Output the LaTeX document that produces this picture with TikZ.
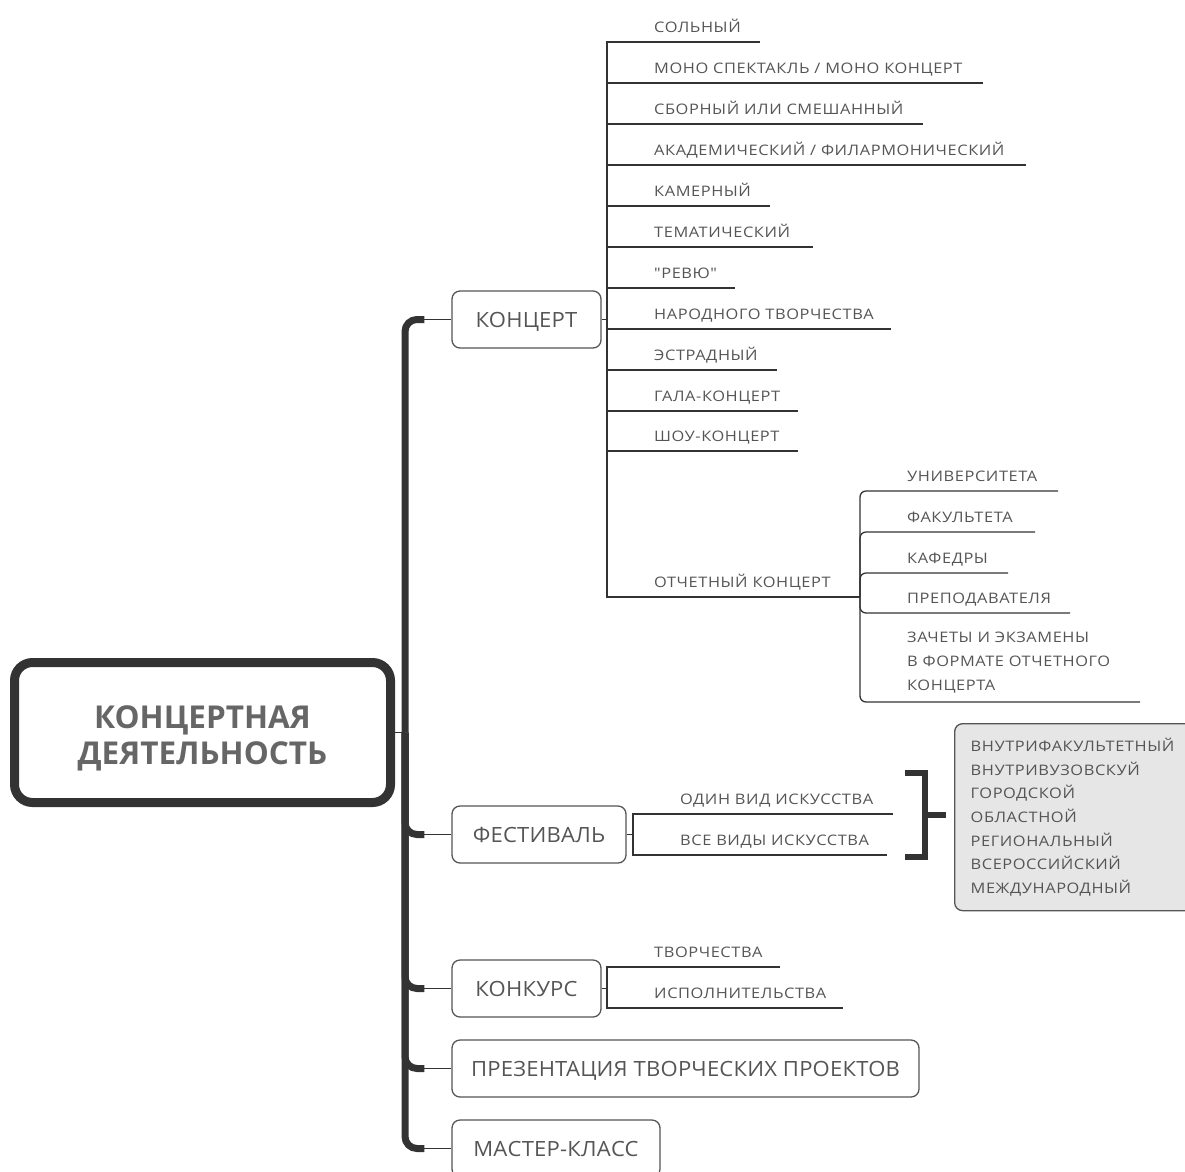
\documentclass[tikz,border=0pt]{standalone}
\usepackage{fontspec}
\setmainfont{Open Sans}
\newfontfamily\lblfont[FakeStretch=1.13, LetterSpace=4]{Open Sans}
\newfontfamily\boxfont[FakeStretch=1.05, LetterSpace=1]{Open Sans}
\definecolor{txt}{HTML}{555555}
\definecolor{txtb}{HTML}{666666}
\definecolor{ln}{HTML}{333333}
\definecolor{bord}{HTML}{555555}
\definecolor{gfill}{HTML}{E6E6E6}
\begin{document}
\begin{tikzpicture}[x=1pt,y=-1pt,
  lbl/.style={anchor=base west, inner sep=0pt, text=txt, font=\lblfont\fontsize{14.5}{24}\selectfont},
  box/.style={draw=bord, line width=1.3pt, rounded corners=8pt, text=txt, font=\boxfont\fontsize{21}{24}\selectfont, minimum height=57pt, inner sep=0pt, text height=15pt, text depth=0pt},
  thin/.style={draw=ln, line width=1.3pt},
  spine/.style={draw=ln, line width=7pt, rounded corners=12pt},
  rootbox/.style={draw=ln, line width=9pt, rounded corners=18pt, minimum width=376pt, minimum height=140pt, inner sep=0pt, text=txtb, font=\bfseries\fontsize{31.5}{36}\selectfont},
  graybox/.style={draw=bord, fill=gfill, line width=1.3pt, rounded corners=8pt, text=txt, font=\lblfont\fontsize{14.5}{23.7}\selectfont, align=left, text width=210pt, inner xsep=16pt, minimum height=187pt, anchor=north west},
  brk/.style={draw=ln, line width=6pt}
]
\useasboundingbox (0,0) rectangle (1185,1171);

% root
\node[rootbox] (root) at (202.5,732.5) {\raisebox{0pt}[\dimexpr\height+13pt\relax][\depth]{\begin{tabular}{@{}c@{}}КОНЦЕРТНАЯ\\ДЕЯТЕЛЬНОСТЬ\end{tabular}}};

% main boxes
\node[box, minimum width=149pt] (konc) at (526.5,319.5) {КОНЦЕРТ};
\node[box, minimum width=174pt] (fest) at (539,834.5) {ФЕСТИВАЛЬ};
\node[box, minimum width=149pt] (konk) at (526.5,988.5) {КОНКУРС};
\node[box, minimum width=467pt] (pres) at (685.5,1068.5) {ПРЕЗЕНТАЦИЯ ТВОРЧЕСКИХ ПРОЕКТОВ};
\node[box, minimum width=208pt] (mast) at (556,1148.5) {МАСТЕР-КЛАСС};

% spine
\coordinate (sp) at (405,732.5);
\draw[thin] (root.east) -- (sp);
\foreach \b in {konc,fest,konk,pres,mast}{
  \draw[spine] (sp) |- ([xshift=-27pt]\b.west);
  \draw[thin] ([xshift=-27pt]\b.west) -- (\b.west);
}

% concert branch
\coordinate (cv) at (607,319.5);
\draw[thin] (konc.east) -- (cv);
\node[lbl] (c1) at (654,32) {СОЛЬНЫЙ};
\node[lbl] (c2) at (654,73) {МОНО СПЕКТАКЛЬ / МОНО КОНЦЕРТ};
\node[lbl] (c3) at (654,114) {СБОРНЫЙ ИЛИ СМЕШАННЫЙ};
\node[lbl] (c4) at (654,155) {АКАДЕМИЧЕСКИЙ / ФИЛАРМОНИЧЕСКИЙ};
\node[lbl] (c5) at (654,196) {КАМЕРНЫЙ};
\node[lbl] (c6) at (654,237) {ТЕМАТИЧЕСКИЙ};
\node[lbl] (c7) at (654,278) {"РЕВЮ"};
\node[lbl] (c8) at (654,319) {НАРОДНОГО ТВОРЧЕСТВА};
\node[lbl] (c9) at (654,360) {ЭСТРАДНЫЙ};
\node[lbl] (c10) at (654,401) {ГАЛА-КОНЦЕРТ};
\node[lbl] (c11) at (654,441) {ШОУ-КОНЦЕРТ};
\node[lbl] (c12) at (654,587) {ОТЧЕТНЫЙ КОНЦЕРТ};
\draw[thin] (cv) |- (760,42);
\draw[thin] (cv) |- (983,83);
\draw[thin] (cv) |- (923,124);
\draw[thin] (cv) |- (1026,165);
\draw[thin] (cv) |- (770,206);
\draw[thin] (cv) |- (813,247);
\draw[thin] (cv) |- (735,288);
\draw[thin] (cv) |- (891,329);
\draw[thin] (cv) |- (777,370);
\draw[thin] (cv) |- (798,411);
\draw[thin] (cv) |- (798,451);
\draw[thin] (cv) |- (860,597) coordinate (ov);

% report concert sub-branch
\node[lbl] (o1) at (907,481) {УНИВЕРСИТЕТА};
\node[lbl] (o2) at (907,522) {ФАКУЛЬТЕТА};
\node[lbl] (o3) at (907,563) {КАФЕДРЫ};
\node[lbl] (o4) at (907,603) {ПРЕПОДАВАТЕЛЯ};
\node[lbl, anchor=north west, align=left] (o5) at (907,632) {ЗАЧЕТЫ И ЭКЗАМЕНЫ\\В ФОРМАТЕ ОТЧЕТНОГО\\КОНЦЕРТА};
\draw[thin, rounded corners=6pt] (ov) |- (1058,491);
\draw[thin, rounded corners=6pt] (ov) |- (1035,532);
\draw[thin, rounded corners=6pt] (ov) |- (1008,573);
\draw[thin, rounded corners=6pt] (ov) |- (1070,613);
\draw[thin, rounded corners=6pt] (ov) |- (1140,702);

% festival branch
\coordinate (fv) at (633,834.5);
\draw[thin] (fest.east) -- (fv);
\node[lbl] (f1) at (680,804) {ОДИН ВИД ИСКУССТВА};
\node[lbl] (f2) at (680,845) {ВСЕ ВИДЫ ИСКУССТВА};
\draw[thin] (fv) |- (893,814);
\draw[thin] (fv) |- (887,855);
\draw[brk] (905,773) -- (925,773) -- (925,857) -- (905,857);
\coordinate (bk) at (925,815);
\coordinate (bke) at (946,815);
\node[graybox] (lev) at (954,723) {ВНУТРИФАКУЛЬТЕТНЫЙ\\ВНУТРИВУЗОВСКУЙ\\ГОРОДСКОЙ\\ОБЛАСТНОЙ\\РЕГИОНАЛЬНЫЙ\\ВСЕРОССИЙСКИЙ\\МЕЖДУНАРОДНЫЙ};
\draw[brk] (bk) -- (bke);

% contest branch
\coordinate (kv) at (607,988.5);
\draw[thin] (konk.east) -- (kv);
\node[lbl] (k1) at (654,957) {ТВОРЧЕСТВА};
\node[lbl] (k2) at (654,998) {ИСПОЛНИТЕЛЬСТВА};
\draw[thin] (kv) |- (780,967);
\draw[thin] (kv) |- (843,1008);
\end{tikzpicture}
\end{document}
